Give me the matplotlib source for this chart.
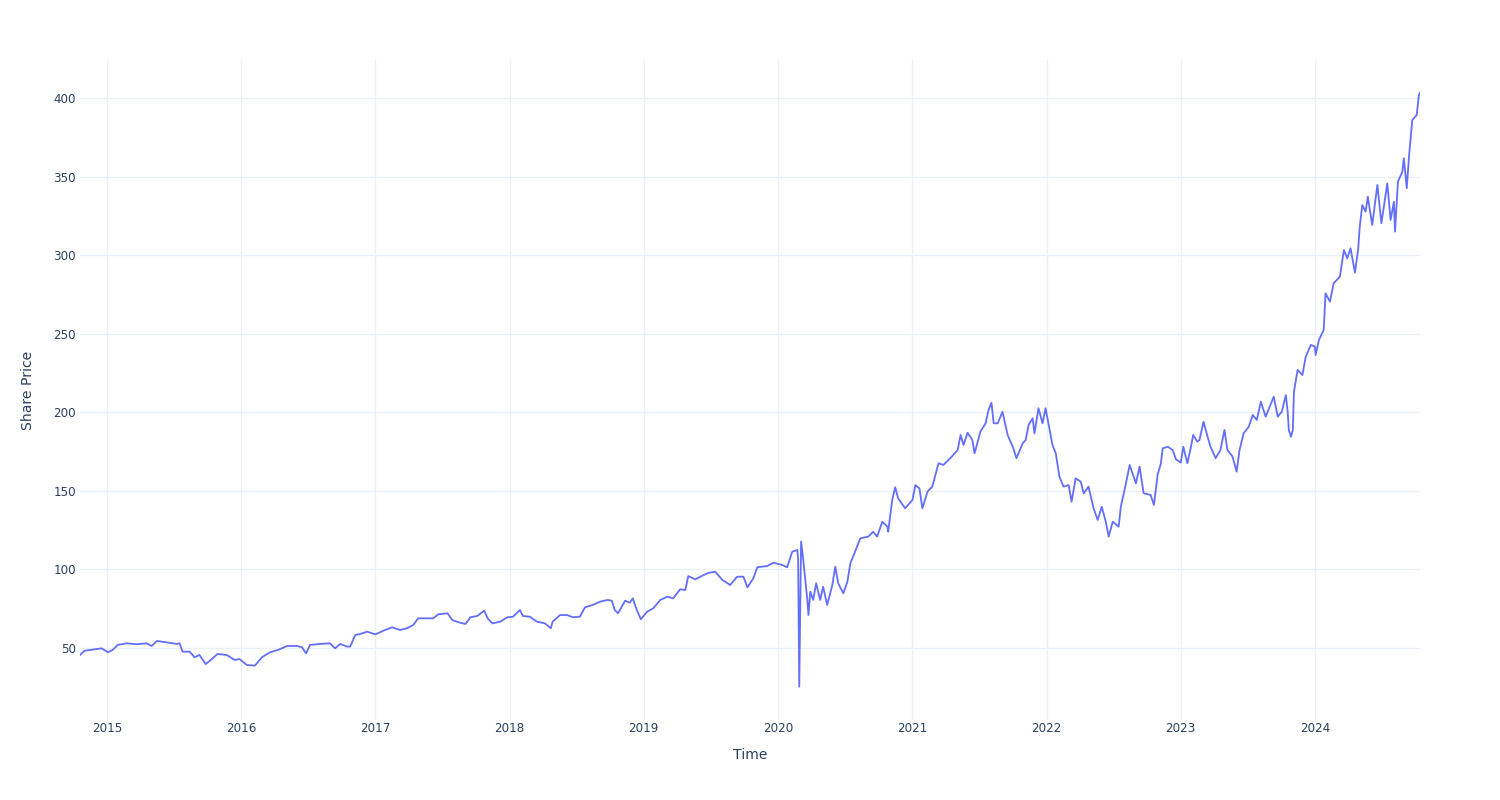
import matplotlib
matplotlib.use("Agg")
import matplotlib.pyplot as plt
import matplotlib.dates as mdates
import pandas as pd

# share price
dates = [
    "2014-10-20", "2014-11-02", "2014-11-24", "2014-12-18", "2015-01-04", "2015-01-17",
    "2015-01-31", "2015-02-24", "2015-03-23", "2015-04-19", "2015-05-03", "2015-05-17",
    "2015-06-13", "2015-07-10", "2015-07-18", "2015-07-26", "2015-08-14", "2015-08-28",
    "2015-09-10", "2015-09-27", "2015-10-13", "2015-10-29", "2015-11-23", "2015-12-15",
    "2015-12-28", "2016-01-17", "2016-02-08", "2016-02-27", "2016-03-20", "2016-04-11",
    "2016-05-05", "2016-06-02", "2016-06-15", "2016-06-26", "2016-07-07", "2016-08-03",
    "2016-08-30", "2016-09-13", "2016-09-27", "2016-10-16", "2016-10-24", "2016-11-07",
    "2016-11-20", "2016-12-09", "2017-01-01", "2017-01-22", "2017-02-15", "2017-03-09",
    "2017-03-28", "2017-04-14", "2017-04-27", "2017-05-22", "2017-06-07", "2017-06-21",
    "2017-07-16", "2017-07-29", "2017-08-15", "2017-09-03", "2017-09-16", "2017-10-05",
    "2017-10-24", "2017-11-02", "2017-11-15", "2017-12-07", "2017-12-26", "2018-01-10",
    "2018-01-29", "2018-02-06", "2018-02-25", "2018-03-16", "2018-04-07", "2018-04-23",
    "2018-04-28", "2018-05-18", "2018-06-06", "2018-06-22", "2018-07-11", "2018-07-25",
    "2018-08-15", "2018-09-04", "2018-09-25", "2018-10-06", "2018-10-14", "2018-10-23",
    "2018-11-11", "2018-11-24", "2018-12-02", "2018-12-13", "2018-12-24", "2019-01-10",
    "2019-01-27", "2019-02-15", "2019-03-06", "2019-03-22", "2019-04-10", "2019-04-24",
    "2019-05-02", "2019-05-21", "2019-06-04", "2019-06-23", "2019-07-14", "2019-08-03",
    "2019-08-24", "2019-09-12", "2019-09-29", "2019-10-10", "2019-10-26", "2019-11-06",
    "2019-12-03", "2019-12-20", "2020-01-13", "2020-01-26", "2020-02-09", "2020-02-23",
    "2020-02-25", "2020-02-28", "2020-03-04", "2020-03-10", "2020-03-21", "2020-03-24",
    "2020-03-29", "2020-04-06", "2020-04-14", "2020-04-25", "2020-05-03", "2020-05-14",
    "2020-05-28", "2020-06-05", "2020-06-13", "2020-06-27", "2020-07-08", "2020-07-16",
    "2020-07-29", "2020-08-12", "2020-09-03", "2020-09-16", "2020-09-27", "2020-10-11",
    "2020-10-25", "2020-10-27", "2020-11-07", "2020-11-15", "2020-11-23", "2020-12-12",
    "2021-01-01", "2021-01-09", "2021-01-20", "2021-01-28", "2021-02-11", "2021-02-24",
    "2021-03-13", "2021-03-26", "2021-04-14", "2021-05-04", "2021-05-12", "2021-05-20",
    "2021-05-31", "2021-06-13", "2021-06-19", "2021-07-05", "2021-07-19", "2021-07-27",
    "2021-08-04", "2021-08-10", "2021-08-21", "2021-09-03", "2021-09-17", "2021-10-01",
    "2021-10-11", "2021-10-28", "2021-11-05", "2021-11-13", "2021-11-24", "2021-11-29",
    "2021-12-10", "2021-12-21", "2021-12-29", "2022-01-06", "2022-01-17", "2022-01-26",
    "2022-02-05", "2022-02-16", "2022-03-02", "2022-03-10", "2022-03-21", "2022-04-04",
    "2022-04-12", "2022-04-25", "2022-05-09", "2022-05-20", "2022-05-31", "2022-06-11",
    "2022-06-19", "2022-06-30", "2022-07-16", "2022-07-22", "2022-08-04", "2022-08-15",
    "2022-09-01", "2022-09-11", "2022-09-22", "2022-10-11", "2022-10-20", "2022-10-30",
    "2022-11-08", "2022-11-13", "2022-11-27", "2022-12-10", "2022-12-19", "2023-01-01",
    "2023-01-08", "2023-01-19", "2023-01-27", "2023-02-04", "2023-02-15", "2023-02-21",
    "2023-03-04", "2023-03-15", "2023-03-23", "2023-04-06", "2023-04-19", "2023-04-30",
    "2023-05-08", "2023-05-22", "2023-06-02", "2023-06-10", "2023-06-21", "2023-07-05",
    "2023-07-16", "2023-07-27", "2023-08-07", "2023-08-20", "2023-08-31", "2023-09-11",
    "2023-09-22", "2023-10-03", "2023-10-14", "2023-10-19", "2023-10-22", "2023-10-28",
    "2023-11-02", "2023-11-05", "2023-11-15", "2023-11-28", "2023-12-07", "2023-12-21",
    "2024-01-01", "2024-01-03", "2024-01-12", "2024-01-25", "2024-01-30", "2024-02-11",
    "2024-02-21", "2024-03-09", "2024-03-20", "2024-03-29", "2024-04-07", "2024-04-19",
    "2024-04-28", "2024-05-02", "2024-05-09", "2024-05-18", "2024-05-24", "2024-06-05",
    "2024-06-19", "2024-06-30", "2024-07-16", "2024-07-25", "2024-08-03", "2024-08-06",
    "2024-08-14", "2024-08-26", "2024-08-30", "2024-09-07", "2024-09-13", "2024-09-22",
    "2024-10-04", "2024-10-10", "2024-10-13",
]
prices = [
    45.6, 48.3, 49.0, 49.8, 47.3, 48.8,
    52.0, 53.0, 52.4, 53.0, 51.3, 54.5,
    53.6, 52.6, 53.0, 47.7, 47.7, 44.1,
    45.6, 39.8, 42.8, 46.2, 45.6, 42.4,
    43.0, 39.2, 38.8, 44.1, 47.3, 48.8,
    51.3, 51.3, 50.5, 46.6, 52.0, 52.6,
    53.0, 49.8, 52.6, 50.9, 50.9, 58.3,
    58.9, 60.4, 58.7, 61.0, 63.2, 61.5,
    62.6, 64.7, 68.9, 68.9, 68.9, 71.5,
    72.1, 67.8, 66.4, 65.3, 69.6, 70.4,
    73.8, 68.9, 65.7, 66.8, 69.6, 69.9,
    74.2, 70.4, 69.9, 66.8, 65.7, 62.6,
    66.8, 71.0, 71.0, 69.6, 69.9, 75.9,
    77.4, 79.5, 80.6, 80.1, 74.2, 72.1,
    80.1, 78.9, 81.6, 74.2, 68.3, 73.1,
    75.3, 80.6, 82.7, 81.6, 87.4, 86.9,
    95.8, 93.7, 95.4, 97.6, 98.6, 93.3,
    90.1, 95.4, 95.4, 88.6, 94.4, 101.4,
    102.2, 104.3, 102.8, 101.4, 111.3, 112.4,
    106.0, 25.4, 117.7, 106.0, 80.6, 71.0,
    85.9, 80.6, 91.2, 80.6, 89.0, 77.4,
    90.1, 101.8, 91.2, 84.8, 92.2, 103.9,
    111.3, 119.8, 120.9, 124.0, 120.9, 130.4,
    127.2, 124.0, 144.2, 152.3, 145.3, 138.9,
    144.2, 153.7, 151.6, 138.9, 149.5, 152.7,
    167.6, 166.5, 170.8, 176.0, 185.6, 179.2,
    187.0, 182.4, 173.9, 187.7, 193.0, 201.5,
    206.1, 193.0, 193.0, 200.4, 185.6, 178.1,
    170.8, 180.3, 182.4, 191.9, 196.2, 186.6,
    202.6, 193.0, 202.6, 193.0, 179.2, 173.9,
    159.0, 152.7, 153.7, 143.1, 158.0, 155.8,
    148.5, 152.7, 138.9, 131.5, 139.9, 130.4,
    120.9, 130.4, 127.2, 139.9, 153.7, 166.5,
    154.8, 165.4, 148.5, 147.4, 141.0, 160.1,
    167.6, 177.1, 178.1, 176.0, 170.1, 168.0,
    178.1, 167.6, 176.0, 185.6, 181.3, 182.4,
    194.0, 184.5, 178.1, 170.8, 176.0, 188.8,
    176.0, 171.8, 162.2, 176.0, 186.6, 190.8,
    198.3, 195.1, 206.8, 197.2, 203.6, 209.9,
    197.2, 200.4, 211.0, 200.4, 188.8, 184.5,
    188.8, 213.1, 227.0, 223.7, 235.4, 242.9,
    241.8, 236.5, 246.0, 252.4, 275.7, 270.4,
    282.1, 286.3, 303.3, 298.0, 304.4, 288.9,
    304.4, 318.1, 331.9, 327.7, 337.2, 319.2,
    344.7, 320.3, 345.7, 322.4, 334.0, 315.0,
    346.8, 353.1, 361.7, 342.6, 362.7, 386.0,
    389.2, 401.9, 403.4,
]
year_ticks = list(range(2015, 2025))
price_ticks = [50, 100, 150, 200, 250, 300, 350, 400]

df = pd.DataFrame({"Date": pd.to_datetime(dates), "Price": prices})

text_col = "#2a3f5f"
grid_col = "#EBF0F8"

fig = plt.figure(figsize=(15, 8), dpi=100)
ax = fig.add_axes([80 / 1500, 80 / 800, 1340 / 1500, 660 / 800])

ax.plot(df["Date"], df["Price"], color="#636efa", linewidth=1.3, zorder=3)

ax.set_xlim(df["Date"].min(), df["Date"].max())
ax.set_ylim(4.2, 424.2)

ax.set_xticks([pd.Timestamp(f"{y}-01-01") for y in year_ticks])
ax.xaxis.set_major_formatter(mdates.DateFormatter("%Y"))
ax.set_yticks(price_ticks)

ax.grid(True, color=grid_col, linewidth=1)
ax.set_axisbelow(True)
for s in ax.spines.values():
    s.set_visible(False)
ax.tick_params(length=0, labelsize=8.6, colors=text_col)
ax.tick_params(axis="x", pad=1.5)
ax.tick_params(axis="y", pad=3)

ax.set_xlabel("Time", fontsize=10.1, color=text_col, labelpad=9)
ax.set_ylabel("Share Price", fontsize=10.1, color=text_col, labelpad=13)

fig.savefig("out.png", dpi=100, facecolor="white")
